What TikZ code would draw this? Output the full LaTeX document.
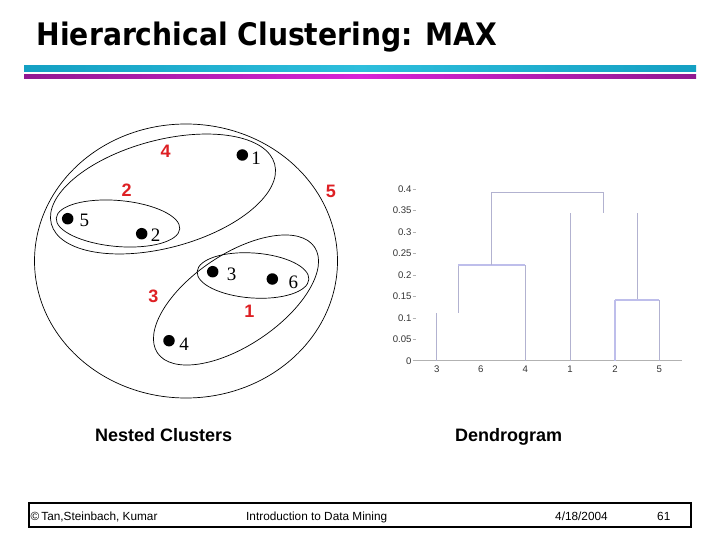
\documentclass[tikz,border=0pt]{standalone}
\usepackage{graphicx}
\usepackage{fontspec}
\setmainfont{Liberation Sans}
\newfontfamily\titlefont{DejaVu Sans}
\newfontfamily\serifnum{Liberation Serif}
\definecolor{redlab}{RGB}{222,32,36}
\definecolor{dendro}{RGB}{178,178,208}
\definecolor{dendrob}{RGB}{190,190,235}
\definecolor{cyanA}{RGB}{20,160,195}
\definecolor{cyanB}{RGB}{45,190,220}
\definecolor{magA}{RGB}{145,25,145}
\definecolor{magB}{RGB}{215,35,215}
\begin{document}
\begin{tikzpicture}[x=1pt,y=-1pt,
  dot/.style={circle,fill=black,inner sep=0pt,minimum size=11.5pt},
  ptlab/.style={inner sep=0pt,font=\serifnum\fontsize{19}{19}\selectfont},
  rednum/.style={inner sep=0pt,text=redlab,font=\bfseries\fontsize{18}{18}\selectfont},
  clus/.style={draw=black,line width=0.7pt},
  dline/.style={draw=dendro,line width=1pt},
  dlineb/.style={draw=dendrob,line width=1.6pt},
  axlab/.style={inner sep=0pt,text=black!80,font=\fontsize{9.6}{9.6}\selectfont},
  caption/.style={inner sep=0pt,anchor=base west,font=\bfseries\fontsize{18}{18}\selectfont},
  foot/.style={inner sep=0pt,anchor=base west,font=\fontsize{11.8}{11.8}\selectfont}]
\useasboundingbox (0,0) rectangle (720,540);
\fill[white] (0,0) rectangle (720,540);

% title and rules
\node[anchor=base west,inner sep=0pt] (title) at (36.5,46)
  {\scalebox{0.91}[1]{\titlefont\bfseries\fontsize{31}{31}\selectfont Hierarchical Clustering: MAX}};
\shade[left color=cyanA,right color=cyanA,middle color=cyanB] (24,66) rectangle (696,72);
\shade[left color=magA,right color=magA,middle color=magB] (24,75) rectangle (696,79);

% nested clusters
\draw[clus] (186,261) ellipse [x radius=151.5, y radius=137];
\draw[clus,rotate around={15:(163,194)}] (163,194) ellipse [x radius=115.6, y radius=53.8];
\draw[clus,rotate around={-5:(118,223.5)}] (118,223.5) ellipse [x radius=62, y radius=23];
\draw[clus,rotate around={-4:(253,275.5)}] (253,275.5) ellipse [x radius=56, y radius=22.5];
\draw[clus,rotate around={34:(236,300)}] (236,300) ellipse [x radius=94.7, y radius=45.5];

\node[dot] (p1) at (242.3,155) {};
\node[dot] (p5) at (67.7,218.7) {};
\node[dot] (p2) at (141.7,233.7) {};
\node[dot] (p3) at (212.7,271.7) {};
\node[dot] (p6) at (272.3,279) {};
\node[dot] (p4) at (169,340.7) {};
\node[ptlab] (l1) at (256,158.3) {1};
\node[ptlab] (l5) at (84.3,220) {5};
\node[ptlab] (l2) at (155.7,235) {2};
\node[ptlab] (l3) at (231.7,274) {3};
\node[ptlab] (l6) at (293.3,282.3) {6};
\node[ptlab] (l4) at (184,344) {4};

\node[rednum] (r4) at (165.7,151) {4};
\node[rednum] (r2) at (126.7,190.7) {2};
\node[rednum] (r5) at (331,191) {5};
\node[rednum] (r3) at (153.3,296.7) {3};
\node[rednum] (r1) at (249.3,311) {1};

% dendrogram axes
\draw[draw=black!30,line width=0.6pt] (415,360.7) -- (681.7,360.7);
\foreach \v/\t [count=\i from 0] in {0/0,0.05/0.05,0.1/0.1,0.15/0.15,0.2/0.2,0.25/0.25,0.3/0.3,0.35/0.35,0.4/0.4} {
  \draw[draw=black!30,line width=0.6pt] (412.7,{360.7-\v*428.6}) -- (416,{360.7-\v*428.6});
  \node[axlab,anchor=east] (yl\i) at (411.7,{360.7-\v*428.6}) {\t};
}
\foreach \x/\t [count=\i] in {436.7/3,480.7/6,525.3/4,570/1,615/2,659.3/5} {
  \node[axlab] (xl\i) at (\x,369.3) {\t};
}

% dendrogram links
\draw[dline] (436.7,360.7) -- (436.7,312.7);
\draw[dline] (458.3,312.7) -- (458.3,265);
\draw[dlineb] (458.3,265) -- (525.3,265);
\draw[dline] (525.3,265) -- (525.3,360.7);
\draw[dline] (491.3,265) -- (491.3,192.3) -- (603.3,192.3) -- (603.3,213.3);
\draw[dline] (570,213.3) -- (570,360.7);
\draw[dline] (637.3,213.3) -- (637.3,300);
\draw[dlineb] (615,300) -- (659.3,300);
\draw[dlineb] (615,300) -- (615,360.7);
\draw[dline] (659.3,300) -- (659.3,360.7);

% captions
\node[caption] (capA) at (95,441.7) {Nested Clusters};
\node[caption] (capB) at (455,441.7) {Dendrogram};

% footer
\draw[line width=2pt] (29.3,503.3) rectangle (690.7,527.3);
\node[foot] (f1) at (30.5,520.5) {\textcopyright\,Tan,Steinbach, Kumar};
\node[foot] (f2) at (246,520.5) {Introduction to Data Mining};
\node[foot] (f3) at (555,520.5) {4/18/2004};
\node[foot] (f4) at (657,520.5) {61};
\end{tikzpicture}
\end{document}
